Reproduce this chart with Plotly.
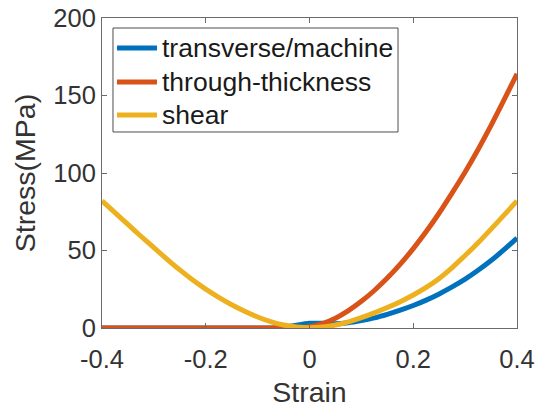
import plotly.graph_objects as go

# Strain sample points shared by all three curves
strain = [-0.400, -0.375, -0.350, -0.325, -0.300, -0.275, -0.250, -0.225,
          -0.200, -0.175, -0.150, -0.125, -0.100, -0.075, -0.050, -0.025,
          0.000, 0.025, 0.050, 0.075, 0.100, 0.125, 0.150, 0.175,
          0.200, 0.225, 0.250, 0.275, 0.300, 0.325, 0.350, 0.375, 0.400]

# Stress (MPa) for each loading direction
transverse_machine = [0, 0, 0, 0, 0, 0, 0, 0,
                      0, 0, 0, 0, 0, 0, 0.3, 1.8,
                      3.0, 3.0, 2.7, 3.4, 4.8, 6.5, 8.8, 11.5,
                      14.5, 18.0, 22.0, 26.5, 31.5, 37.2, 43.5, 50.5, 58.0]
through_thickness = [0, 0, 0, 0, 0, 0, 0, 0,
                     0, 0, 0, 0, 0, 0, 0, 0.2,
                     0.8, 2.8, 6.3, 11.2, 17.2, 24.2, 32.2, 41.2,
                     51.2, 62.2, 74.2, 87.2, 100.7, 115.2, 130.7, 147.2, 164.0]
shear = [82.0, 74.4, 66.8, 59.2, 51.8, 44.5, 37.5, 31.0,
         25.1, 19.8, 15.0, 10.8, 7.1, 4.1, 1.9, 0.6,
         0.1, 0.6, 1.9, 4.0, 6.7, 9.8, 13.2, 17.0,
         21.3, 26.2, 32.0, 39.0, 46.8, 55.0, 63.8, 72.8, 82.0]

series_names = ["transverse/machine", "through-thickness", "shear"]
series_colors = ["#0072BD", "#D95319", "#EDB120"]

x_ticks = [-0.4, -0.2, 0, 0.2, 0.4]
x_tick_labels = ["-0.4", "-0.2", "0", "0.2", "0.4"]
y_ticks = [0, 50, 100, 150, 200]
y_tick_labels = ["0", "50", "100", "150", "200"]

FONT = "Liberation Sans, Arial, Helvetica, sans-serif"
TEXT = "#333333"
AXIS = "#6b6b6b"

fig = go.Figure()
for name, ys, col in zip(series_names,
                         [transverse_machine, through_thickness, shear],
                         series_colors):
    fig.add_trace(go.Scatter(
        x=strain, y=ys, name=name, mode="lines", showlegend=False,
        line=dict(color=col, width=5, shape="spline", smoothing=0.6),
    ))

# Boxed legend in the upper-left corner of the axes (paper coordinates)
LEG_BOX = dict(x0=0.0265, x1=0.7133, y0=0.6323, y1=0.9677)
LEG_SAMPLE_X = (0.0361, 0.1325)
LEG_TEXT_X = 0.1422
LEG_ROWS = [0.9032, 0.7935, 0.6871]

fig.add_shape(type="rect", xref="paper", yref="paper", **LEG_BOX,
              line=dict(color="#4d4d4d", width=1), fillcolor="white",
              layer="above")
for name, col, yrow in zip(series_names, series_colors, LEG_ROWS):
    fig.add_shape(type="line", xref="paper", yref="paper",
                  x0=LEG_SAMPLE_X[0], x1=LEG_SAMPLE_X[1], y0=yrow, y1=yrow,
                  line=dict(color=col, width=5), layer="above")
    fig.add_annotation(xref="paper", yref="paper", x=LEG_TEXT_X, y=yrow,
                       xanchor="left", yanchor="middle", text=name,
                       showarrow=False, borderpad=0,
                       font=dict(family=FONT, size=26.5, color="#1a1a1a"))

axis_common = dict(
    showline=True, linecolor=AXIS, linewidth=1, mirror="ticks",
    ticks="inside", ticklen=5, tickwidth=1, tickcolor=AXIS,
    showgrid=False, zeroline=False, automargin=False,
    tickfont=dict(family=FONT, size=25.5, color=TEXT),
)

fig.update_layout(
    width=545, height=408,
    margin=dict(l=102, r=28, t=18, b=80),
    paper_bgcolor="white", plot_bgcolor="white",
    showlegend=False,
    xaxis=dict(
        range=[-0.4, 0.4], tickvals=x_ticks, ticktext=x_tick_labels,
        ticklabelstandoff=8,
        title=dict(text="Strain", standoff=11,
                   font=dict(family=FONT, size=28.5, color=TEXT)),
        **axis_common,
    ),
    yaxis=dict(
        range=[0, 200], tickvals=y_ticks, ticktext=y_tick_labels,
        title=dict(text="Stress(MPa)", standoff=9,
                   font=dict(family=FONT, size=28.5, color=TEXT)),
        **axis_common,
    ),
)

fig.write_html("out.html")
